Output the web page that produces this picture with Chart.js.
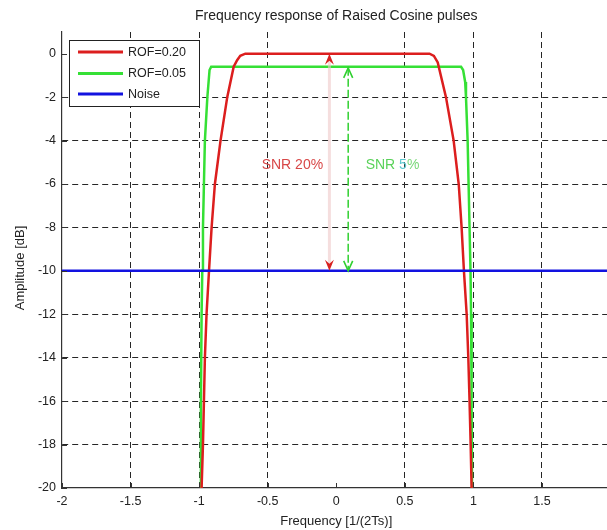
<!DOCTYPE html>
<html>
<head>
<meta charset="utf-8">
<script src="https://cdn.jsdelivr.net/npm/chart.js@4.4.0/dist/chart.umd.js"></script>
<style>
  html, body { margin: 0; padding: 0; background: #fff; overflow: hidden; }
  #wrap { width: 620px; height: 530px; }
</style>
</head>
<body>
<div id="wrap"><canvas id="chart" width="620" height="530"></canvas></div>
<script>
// frequency in 1/(2Ts), amplitude in dB
const rof20Freq = [-0.982, -0.972, -0.965, -0.958, -0.946, -0.928, -0.909, -0.885, -0.844, -0.795, -0.748, -0.723, -0.700, -0.663,
                   0.680, 0.712, 0.740, 0.800, 0.856, 0.893, 0.914, 0.931, 0.951, 0.963, 0.972, 0.980, 0.987]
const rof20Amp = [-20, -18, -16, -14, -12, -10, -8, -6, -4, -2, -0.6, -0.3, -0.1, 0,
                  0, -0.1, -0.4, -2, -4, -6, -8, -10, -12, -14, -16, -18, -20]

const rof05Freq = [-0.991, -0.987, -0.982, -0.977, -0.972, -0.965, -0.958, -0.940, -0.924, -0.912,
                   0.910, 0.925, 0.940, 0.946, 0.958, 0.965, 0.972, 0.979, 0.983, 0.987, 0.990]
const rof05Amp = [-20, -16, -12, -10, -8, -6, -4, -2, -0.75, -0.6,
                  -0.6, -0.75, -1.3, -2, -4, -6, -8, -10, -12, -16, -20]

const noiseFreq = [-2, 2]
const noiseAmp = [-10, -10]

const seriesLabels = ['ROF=0.20', 'ROF=0.05', 'Noise']
const seriesColors = ['#dc1e1e', '#35e035', '#1212e0']

const xTicks = [-2, -1.5, -1, -0.5, 0, 0.5, 1, 1.5, 2]
const yTicks = [-20, -18, -16, -14, -12, -10, -8, -6, -4, -2, 0]

// SNR arrows (red: ROF 0.20, green: ROF 0.05)
const snrArrowFreq = [-0.05, 0.087]
const snrArrowTop = [0, -0.65]
const snrArrowBottom = [-10, -10]
const snrLabelFreq = [-0.32, 0.41]
const snrLabelAmp = [-5.15, -5.15]

const FONT = '"Liberation Sans", Arial, sans-serif'

const toPoints = (xs, ys) => xs.map((x, i) => ({ x, y: ys[i] }))

function arrowHead(ctx, x, y, dir, color, filled) {
  // dir = -1 pointing up, +1 pointing down
  ctx.save()
  if (filled) {
    ctx.fillStyle = color
    ctx.beginPath()
    ctx.moveTo(x, y)
    ctx.lineTo(x - 4.5, y - dir * 11)
    ctx.lineTo(x, y - dir * 7)
    ctx.lineTo(x + 4.5, y - dir * 11)
    ctx.closePath()
    ctx.fill()
  } else {
    ctx.strokeStyle = color
    ctx.lineWidth = 1.6
    ctx.beginPath()
    ctx.moveTo(x - 4.5, y - dir * 10)
    ctx.lineTo(x, y)
    ctx.lineTo(x + 4.5, y - dir * 10)
    ctx.stroke()
  }
  ctx.restore()
}

const decorations = {
  id: 'decorations',
  afterDatasetsDraw(chart) {
    const { ctx, scales: { x, y } } = chart
    // red arrow: pale shaft, filled heads
    const rx = x.getPixelForValue(snrArrowFreq[0])
    const rTop = y.getPixelForValue(snrArrowTop[0])
    const rBot = y.getPixelForValue(snrArrowBottom[0])
    ctx.save()
    ctx.strokeStyle = 'rgba(238, 200, 200, 0.6)'
    ctx.lineWidth = 3
    ctx.beginPath()
    ctx.moveTo(rx, rTop + 6)
    ctx.lineTo(rx, rBot - 6)
    ctx.stroke()
    ctx.restore()
    arrowHead(ctx, rx, rTop, -1, '#d82020', true)
    arrowHead(ctx, rx, rBot, 1, '#d82020', true)

    // green arrow: dashed shaft, open heads
    const gx = x.getPixelForValue(snrArrowFreq[1])
    const gTop = y.getPixelForValue(snrArrowTop[1])
    const gBot = y.getPixelForValue(snrArrowBottom[1])
    ctx.save()
    ctx.strokeStyle = '#30d030'
    ctx.lineWidth = 1.5
    ctx.setLineDash([8, 3])
    ctx.beginPath()
    ctx.moveTo(gx, gTop)
    ctx.lineTo(gx, gBot)
    ctx.stroke()
    ctx.restore()
    arrowHead(ctx, gx, gTop, -1, '#30d030', false)
    arrowHead(ctx, gx, gBot, 1, '#30d030', false)

    // SNR labels
    ctx.save()
    ctx.font = '14px ' + FONT
    ctx.textBaseline = 'middle'
    ctx.textAlign = 'center'
    ctx.fillStyle = '#d84848'
    ctx.fillText('SNR 20%', x.getPixelForValue(snrLabelFreq[0]), y.getPixelForValue(snrLabelAmp[0]))
    const parts = [['SNR ', '#5ad25a'], ['5', '#5cc8d0'], ['%', '#7ad87a']]
    const total = parts.reduce((w, p) => w + ctx.measureText(p[0]).width, 0)
    let px = x.getPixelForValue(snrLabelFreq[1]) - total / 2
    const py = y.getPixelForValue(snrLabelAmp[1])
    ctx.textAlign = 'left'
    parts.forEach(([t, c]) => {
      ctx.fillStyle = c
      ctx.fillText(t, px, py)
      px += ctx.measureText(t).width
    })
    ctx.restore()
  },
  afterDraw(chart) {
    const { ctx, chartArea: a, scales: { x, y } } = chart
    ctx.save()
    // inward ticks
    ctx.strokeStyle = '#333'
    ctx.lineWidth = 1
    ctx.beginPath()
    yTicks.forEach(v => {
      const py = Math.round(y.getPixelForValue(v)) + 0.5
      ctx.moveTo(a.left, py); ctx.lineTo(a.left + 5, py)
    })
    xTicks.forEach(v => {
      const px = Math.round(x.getPixelForValue(v)) + 0.5
      ctx.moveTo(px, a.bottom); ctx.lineTo(px, a.bottom - 5)
    })
    ctx.stroke()

    // legend box
    const lx = 69, ly = 40, lw = 130, lh = 66
    ctx.fillStyle = '#fff'
    ctx.fillRect(lx, ly, lw, lh)
    ctx.strokeStyle = '#222'
    ctx.strokeRect(lx + 0.5, ly + 0.5, lw, lh)
    const rows = [52, 73.5, 94]
    ctx.font = '12.5px ' + FONT
    ctx.textBaseline = 'middle'
    ctx.textAlign = 'left'
    seriesLabels.forEach((lab, i) => {
      ctx.strokeStyle = seriesColors[i]
      ctx.lineWidth = 3
      ctx.beginPath()
      ctx.moveTo(78, rows[i]); ctx.lineTo(123, rows[i])
      ctx.stroke()
      ctx.fillStyle = '#222'
      ctx.fillText(lab, 128, rows[i] + 0.5)
    })

    // titles
    const cx = (a.left + a.right) / 2
    ctx.fillStyle = '#222'
    ctx.textAlign = 'center'
    ctx.font = '14px ' + FONT
    ctx.fillText('Frequency response of Raised Cosine pulses', cx, 16)
    ctx.font = '13px ' + FONT
    ctx.fillText('Frequency [1/(2Ts)]', cx, 521)
    ctx.translate(20, (a.top + a.bottom) / 2 + 8)
    ctx.rotate(-Math.PI / 2)
    ctx.fillText('Amplitude [dB]', 0, 0)
    ctx.restore()
  }
}

new Chart(document.getElementById('chart'), {
  type: 'line',
  data: {
    datasets: [
      { label: seriesLabels[0], data: toPoints(rof20Freq, rof20Amp), borderColor: seriesColors[0], borderWidth: 2.5, order: 2 },
      { label: seriesLabels[1], data: toPoints(rof05Freq, rof05Amp), borderColor: seriesColors[1], borderWidth: 2.5, order: 3 },
      { label: seriesLabels[2], data: toPoints(noiseFreq, noiseAmp), borderColor: seriesColors[2], borderWidth: 2.5, order: 1 }
    ]
  },
  options: {
    responsive: false,
    animation: false,
    events: [],
    elements: { point: { radius: 0 }, line: { tension: 0 } },
    layout: { padding: { left: 0, right: 8, top: 32, bottom: 0 } },
    plugins: { legend: { display: false }, tooltip: { enabled: false }, title: { display: false } },
    scales: {
      x: {
        type: 'linear',
        min: -2,
        max: 2,
        afterBuildTicks: s => { s.ticks = xTicks.map(v => ({ value: v })) },
        afterFit: s => { s.height = 42 },
        ticks: { color: '#222', padding: 6, maxRotation: 0, font: { family: FONT, size: 12.5 }, callback: v => String(v) },
        grid: {
          drawTicks: false,
          color: c => (c.tick && (c.tick.value === 0 || c.tick.value === -2)) ? 'rgba(0,0,0,0)' : '#262626',
          lineWidth: 1
        },
        border: { display: true, color: '#333', width: 1.2, dash: [6, 4] }
      },
      y: {
        type: 'linear',
        min: -20,
        max: 1,
        afterBuildTicks: s => { s.ticks = yTicks.map(v => ({ value: v })) },
        afterFit: s => { s.width = 62 },
        ticks: { color: '#222', padding: 6, font: { family: FONT, size: 12.5 }, callback: v => String(v) },
        grid: {
          drawTicks: false,
          color: c => (c.tick && (c.tick.value === 0 || c.tick.value === -20)) ? 'rgba(0,0,0,0)' : '#262626',
          lineWidth: 1
        },
        border: { display: true, color: '#333', width: 1.2, dash: [6, 4] }
      }
    }
  },
  plugins: [decorations]
})
</script>
</body>
</html>
